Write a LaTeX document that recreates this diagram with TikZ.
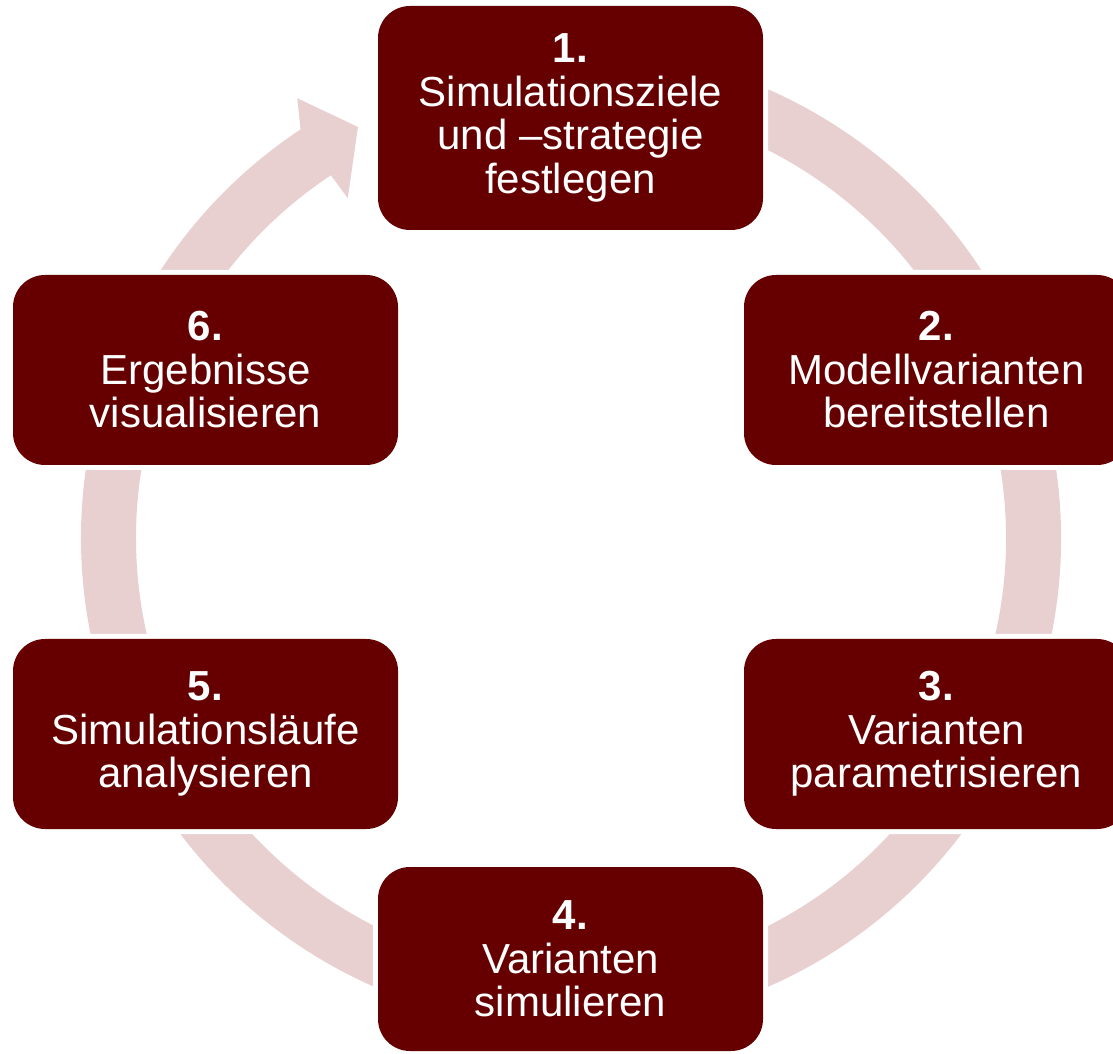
\documentclass[tikz,border=0pt]{standalone}
\usepackage{fontspec}
\setmainfont{Liberation Sans}
\usetikzlibrary{calc}
\definecolor{boxred}{HTML}{660000}
\definecolor{ringpink}{HTML}{E8D0D1}
\begin{document}
\begin{tikzpicture}[x=1pt,y=1pt,
  stepbox/.style={rectangle, rounded corners=32pt, fill=boxred, text=white,
    align=center, minimum width=385pt, minimum height=190pt, inner sep=0pt,
    font=\fontsize{42}{43.5}\selectfont,
    preaction={draw=white, line width=10pt}},
  ringarc/.style={draw=ringpink, line width=55pt},
  ringhead/.style={fill=ringpink}]
\useasboundingbox (0,0) rectangle (1113,1053);
\clip (0,0) rectangle (1113,1053);
\coordinate (c) at (571,515);
% ring with arrow
\draw[ringarc] (c) ++(100:462.5) arc[start angle=100, end angle=-237.5, radius=462.5];
\fill[ringhead] ($(c)+(123.5:435)$) -- ($(c)+(123.3:406.6)$) -- ($(c)+(117.4:463)$)
  -- ($(c)+(121.9:518)$) -- ($(c)+(123.5:490)$) -- cycle;
% boxes
\node[stepbox, minimum height=224pt] (s1) at (570.5,935) {\textbf{1.}\\Simulationsziele\\und –strategie\\festlegen};
\node[stepbox] (s2) at (936.5,683) {\textbf{2.}\\Modellvarianten\\bereitstellen};
\node[stepbox] (s3) at (936.5,319) {\textbf{3.}\\Varianten\\parametrisieren};
\node[stepbox, minimum height=184pt] (s4) at (570.5,94) {\textbf{4.}\\Varianten\\simulieren};
\node[stepbox] (s5) at (205.5,319) {\textbf{5.}\\Simulationsläufe\\analysieren};
\node[stepbox] (s6) at (205.5,683) {\textbf{6.}\\Ergebnisse\\visualisieren};
\end{tikzpicture}
\end{document}
